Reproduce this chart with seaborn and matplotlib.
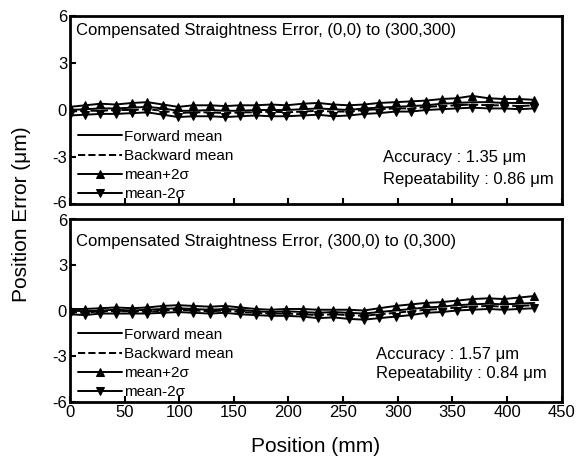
import numpy as np
import pandas as pd
import matplotlib
matplotlib.use("Agg")
import matplotlib.pyplot as plt
import matplotlib.transforms as mtransforms
import seaborn as sns

sns.set_style("ticks")
plt.rcParams['font.family'] = ['Liberation Sans', 'DejaVu Sans']
plt.rcParams['axes.unicode_minus'] = False
plt.rcParams['text.color'] = 'black'
plt.rcParams['axes.labelcolor'] = 'black'
plt.rcParams['xtick.color'] = 'black'
plt.rcParams['ytick.color'] = 'black'
plt.rcParams['axes.edgecolor'] = 'black'

# ---- data ----
position = [0, 14, 28, 42, 57, 71, 85, 99, 113, 128, 142, 156, 170, 184, 198, 213,
            227, 241, 255, 269, 283, 298, 312, 326, 340, 354, 368, 383, 397, 411, 425]

fwd_top = [0.0, 0.05, 0.1, 0.1, 0.15, 0.2, 0.1, -0.05, -0.05, 0.0, -0.05, -0.05, 0.0, 0.0, 0.0, 0.05,
           0.1, 0.05, 0.0, 0.1, 0.15, 0.2, 0.25, 0.3, 0.4, 0.45, 0.5, 0.5, 0.45, 0.45, 0.45]
bwd_top = [-0.1, -0.05, -0.05, 0.0, 0.0, 0.05, -0.05, -0.2, -0.15, -0.15, -0.2, -0.15, -0.15, -0.1, -0.15, -0.1,
           -0.05, -0.1, -0.1, 0.0, 0.05, 0.1, 0.1, 0.2, 0.25, 0.3, 0.35, 0.3, 0.3, 0.25, 0.3]
upper_top = [0.2, 0.3, 0.4, 0.35, 0.45, 0.5, 0.35, 0.2, 0.3, 0.3, 0.25, 0.3, 0.3, 0.35, 0.3, 0.4,
             0.45, 0.35, 0.3, 0.35, 0.45, 0.5, 0.55, 0.6, 0.7, 0.75, 0.9, 0.75, 0.7, 0.7, 0.65]
lower_top = [-0.35, -0.3, -0.25, -0.25, -0.2, -0.15, -0.3, -0.45, -0.4, -0.4, -0.45, -0.4, -0.35, -0.4, -0.4, -0.35,
             -0.3, -0.4, -0.35, -0.25, -0.2, -0.1, -0.1, 0.0, 0.05, 0.1, 0.15, 0.1, 0.1, 0.05, 0.1]

fwd_bot = [0.0, -0.05, 0.0, 0.05, 0.0, 0.05, 0.1, 0.15, 0.1, 0.05, 0.1, 0.05, -0.05, -0.1, -0.05, -0.1,
           -0.15, -0.1, -0.15, -0.2, -0.1, 0.0, 0.1, 0.2, 0.25, 0.35, 0.4, 0.45, 0.4, 0.45, 0.5]
bwd_bot = [-0.1, -0.15, -0.05, -0.05, -0.05, -0.1, 0.0, 0.05, 0.0, -0.05, 0.0, -0.1, -0.15, -0.2, -0.2, -0.25,
           -0.3, -0.25, -0.3, -0.35, -0.25, -0.15, -0.05, 0.05, 0.1, 0.2, 0.25, 0.3, 0.25, 0.3, 0.35]
upper_bot = [0.1, 0.1, 0.15, 0.2, 0.15, 0.2, 0.3, 0.35, 0.3, 0.25, 0.3, 0.2, 0.1, 0.05, 0.1, 0.1,
             0.05, 0.05, 0.05, 0.0, 0.15, 0.3, 0.4, 0.5, 0.55, 0.65, 0.75, 0.8, 0.75, 0.85, 0.95]
lower_bot = [-0.25, -0.3, -0.2, -0.2, -0.2, -0.2, -0.15, -0.1, -0.15, -0.2, -0.15, -0.25, -0.3, -0.35, -0.35, -0.4,
             -0.5, -0.45, -0.55, -0.6, -0.5, -0.4, -0.3, -0.15, -0.1, 0.0, 0.05, 0.1, 0.05, 0.1, 0.15]

titles = ["Compensated Straightness Error, (0,0) to (300,300)",
          "Compensated Straightness Error, (300,0) to (0,300)"]
accuracy = ["1.35", "1.57"]
repeatability = ["0.86", "0.84"]
labels = ["Forward mean", "Backward mean", "mean+2\u03c3", "mean-2\u03c3"]
xticks = [0, 50, 100, 150, 200, 250, 300, 350, 400, 450]
yticks = [-6, -3, 0, 3, 6]

panels = [(fwd_top, bwd_top, upper_top, lower_top),
          (fwd_bot, bwd_bot, upper_bot, lower_bot)]

fig = plt.figure(figsize=(5.87, 4.65), dpi=100)
ax_pos = [[0.119, 0.5613, 0.838, 0.4043], [0.119, 0.1355, 0.838, 0.3935]]
text_y = [(0.925, 0.245, 0.128), (0.875, 0.26, 0.155)]
text_x = [0.636, 0.622]

styles = [dict(linestyle='-', marker=None),
          dict(linestyle='--', marker=None),
          dict(linestyle='-', marker='^'),
          dict(linestyle='-', marker='v')]

for i, (series, pos) in enumerate(zip(panels, ax_pos)):
    ax = fig.add_axes(pos)
    for vals, st, lab in zip(series, styles, labels):
        df = pd.DataFrame({"Position": position, "Error": vals})
        kw = dict(color='black', linewidth=1.4, linestyle=st['linestyle'], label=lab)
        if st['marker']:
            kw.update(marker=st['marker'], markersize=5.5, markeredgecolor='black',
                      markerfacecolor='black')
        sns.lineplot(data=df, x="Position", y="Error", ax=ax, **kw)
    ax.set_xlim(0, 450)
    ax.set_ylim(-6, 6)
    ax.set_xticks(xticks)
    ax.set_yticks(yticks)
    ax.set_xlabel("")
    ax.set_ylabel("")
    for sp in ax.spines.values():
        sp.set_linewidth(2)
        sp.set_visible(True)
        sp.set_color('black')
    ax.tick_params(direction='in', length=4, width=1.5, labelsize=12, pad=2,
                   top=False, right=False, colors='black')
    if i == 0:
        ax.tick_params(labelbottom=False)
    # small nudge so the "-6" and "6" labels between the panels stay apart
    ylabs = ax.get_yticklabels()
    if i == 0:
        lab = ylabs[0]
        lab.set_transform(lab.get_transform() + mtransforms.ScaledTranslation(0, 2 / 100, fig.dpi_scale_trans))
    else:
        lab = ylabs[-1]
        lab.set_transform(lab.get_transform() + mtransforms.ScaledTranslation(0, -1 / 100, fig.dpi_scale_trans))
    ty, ay, ry = text_y[i]
    ax.text(0.012, ty, titles[i], transform=ax.transAxes, fontsize=12,
            ha='left', va='center', color='black')
    ax.text(text_x[i], ay, f"Accuracy : {accuracy[i]} \u03bcm", transform=ax.transAxes,
            fontsize=12, ha='left', va='center', color='black')
    ax.text(text_x[i], ry, f"Repeatability : {repeatability[i]} \u03bcm", transform=ax.transAxes,
            fontsize=12, ha='left', va='center', color='black')
    ax.legend(loc='lower left', bbox_to_anchor=(0.01, 0.0), frameon=False, fontsize=11,
              handlelength=2.9, handletextpad=0.15, labelspacing=0.33,
              borderaxespad=0.1, borderpad=0.1)

fig.text(0.538, 0.039, "Position (mm)", ha='center', va='center', fontsize=15, color='black')
fig.text(0.037, 0.54, "Position Error (\u03bcm)", ha='center', va='center',
         rotation=90, fontsize=15, color='black')

fig.savefig("out.png", dpi=100)
